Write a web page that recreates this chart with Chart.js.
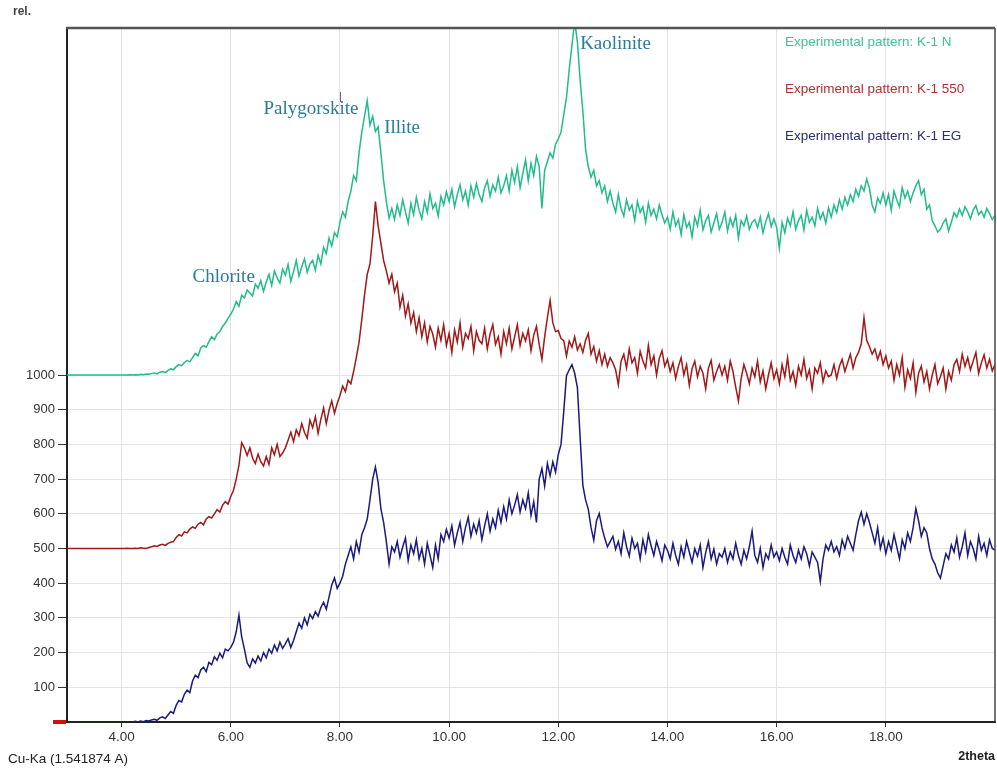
<!DOCTYPE html>
<html>
<head>
<meta charset="utf-8">
<script src="https://cdn.jsdelivr.net/npm/chart.js@4.4.1/dist/chart.umd.min.js"></script>
<style>
  html, body { margin: 0; padding: 0; background: #ffffff; }
  #wrap { width: 997px; height: 769px; position: relative; }
  canvas { display: block; }
</style>
</head>
<body>
<div id="wrap"><canvas id="c" width="997" height="769"></canvas></div>
<script>
// ---- sampling grid (2theta, step 0.05 from 3.00 to 20.00) ----
const thetaStart = 3.0;
const thetaStep = 0.05;

// ---- series values (counts, offsets as plotted) ----
const intensityN = [
  1000,1000,1000,1000,1000,1000,1000,1000,1000,1000,1000,1000,1000,1000,1000,1000,1000,1000,1000,1000,
  1000,1000,1000,1001,1000,1001,1000,1002,1001,1003,1002,1004,1006,1003,1008,1010,1007,1013,1018,1015,
  1024,1030,1027,1036,1042,1038,1050,1062,1055,1078,1085,1080,1096,1110,1102,1118,1125,1140,1150,1163,
  1175,1190,1212,1198,1230,1222,1245,1236,1228,1262,1250,1272,1241,1268,1290,1258,1300,1280,1265,1305,
  1288,1318,1270,1298,1330,1285,1312,1335,1296,1320,1330,1302,1345,1320,1368,1350,1395,1372,1410,1398,
  1440,1470,1455,1500,1530,1575,1560,1640,1700,1745,1790,1720,1745,1702,1715,1640,1560,1500,1452,1480,
  1448,1490,1460,1505,1470,1438,1495,1462,1512,1475,1450,1500,1468,1522,1480,1495,1458,1515,1490,1528,
  1500,1535,1485,1520,1548,1505,1530,1490,1545,1512,1552,1520,1500,1540,1560,1515,1548,1530,1570,1525,
  1545,1575,1530,1590,1555,1600,1540,1580,1620,1560,1610,1575,1630,1600,1480,1590,1615,1640,1625,1665,
  1680,1700,1750,1800,1880,1950,2020,1960,1850,1760,1650,1600,1570,1590,1545,1560,1525,1545,1500,1530,
  1495,1470,1520,1480,1458,1505,1475,1490,1445,1500,1468,1485,1440,1495,1460,1478,1450,1490,1462,1438,
  1455,1420,1470,1430,1448,1405,1462,1425,1440,1398,1455,1430,1475,1418,1445,1460,1412,1438,1465,1420,
  1440,1470,1415,1452,1428,1460,1395,1445,1430,1458,1420,1440,1448,1425,1455,1410,1442,1465,1428,1450,
  1425,1365,1440,1410,1452,1430,1470,1420,1445,1460,1418,1475,1440,1455,1430,1480,1450,1468,1438,1482,
  1455,1490,1468,1505,1478,1512,1490,1520,1500,1535,1515,1545,1530,1565,1538,1490,1470,1510,1495,1525,
  1490,1520,1475,1530,1505,1485,1540,1510,1530,1500,1525,1545,1560,1520,1535,1478,1490,1445,1430,1412,
  1420,1438,1450,1415,1440,1468,1455,1478,1460,1485,1470,1450,1475,1488,1462,1472,1455,1480,1465,1448,
  1460
];

const intensity550 = [
  500,500,500,500,500,500,500,500,500,500,500,500,500,500,500,500,500,500,500,500,
  500,500,501,500,500,501,500,502,501,500,503,505,508,506,510,512,509,515,518,520,
  532,540,536,548,545,556,562,558,570,575,568,585,592,588,600,612,605,625,635,628,
  650,668,700,740,805,790,768,790,760,745,772,750,738,765,742,790,770,800,765,775,
  790,812,835,808,842,825,860,835,818,870,848,880,832,872,905,860,898,925,890,918,
  940,968,952,985,975,1010,1050,1095,1160,1230,1290,1320,1400,1500,1430,1380,1330,1300,1265,1290,
  1240,1265,1195,1230,1170,1205,1150,1180,1125,1165,1110,1150,1095,1140,1118,1080,1135,1100,1145,1085,
  1120,1065,1130,1095,1150,1080,1120,1105,1140,1070,1125,1100,1090,1135,1075,1118,1145,1088,1110,1060,
  1125,1090,1135,1075,1110,1145,1085,1120,1098,1130,1070,1115,1140,1088,1045,1110,1165,1215,1150,1125,
  1128,1105,1099,1055,1098,1080,1110,1072,1090,1065,1100,1120,1060,1082,1040,1070,1030,1060,1025,1050,
  1035,1015,972,1040,1060,1020,1075,1035,1050,1005,1068,1040,1020,1085,1030,1055,1000,1048,1070,1025,
  1045,1010,1035,990,1025,1050,1000,1030,970,1018,1040,995,1025,1005,960,1020,1042,985,1010,1030,
  1000,1025,985,1040,1010,965,925,990,1030,1005,975,1020,995,1040,980,1012,960,1000,1035,990,
  1015,975,1030,995,1050,985,1010,970,1025,1000,1045,990,1015,960,1020,1005,1035,980,1012,995,
  1000,1030,990,1025,1045,1010,1035,1060,1020,1050,1065,1090,1165,1100,1082,1060,1075,1045,1068,1030,
  1055,1020,1040,985,1030,1000,1050,965,1015,990,1035,950,1005,1025,980,1010,960,1000,1030,975,
  995,1020,960,1010,985,1030,1045,1010,1060,1025,1050,1015,1040,1065,1005,1035,1058,1020,1045,1012,
  1030
];

const intensityEG = [
  0,0,0,0,0,0,0,0,0,0,0,0,0,0,0,0,0,0,0,0,
  0,0,0,1,0,2,0,3,1,4,3,6,8,5,12,15,10,20,30,25,
  48,62,58,80,92,85,118,135,128,150,158,145,172,165,188,178,198,185,210,205,
  215,230,260,308,245,210,170,158,182,170,190,176,200,185,210,198,222,205,230,212,
  225,240,215,235,260,285,270,300,280,310,298,318,305,330,345,325,360,395,415,385,
  400,420,455,480,505,470,520,490,540,560,585,640,700,735,690,615,575,520,455,505,
  490,520,475,505,530,465,510,485,525,470,500,455,515,480,445,510,470,540,520,555,
  530,565,510,545,575,520,560,590,535,570,545,580,525,565,600,550,585,560,610,575,
  620,585,640,600,625,655,605,640,615,660,595,635,575,700,730,680,745,710,750,720,
  771,800,895,998,1015,1030,1005,964,820,682,640,613,560,524,580,601,560,530,505,520,
  535,498,520,485,545,505,478,530,500,515,470,525,490,540,508,480,520,495,465,510,
  495,470,515,480,455,505,475,520,490,460,500,478,510,445,488,520,470,498,455,485,
  475,500,460,490,470,515,480,455,495,470,505,550,480,460,500,445,485,470,510,475,
  490,465,500,475,455,510,480,460,495,470,505,485,450,490,475,460,405,470,510,495,
  520,490,505,480,525,500,535,515,495,540,580,605,570,600,575,545,515,560,500,530,
  485,520,495,540,505,470,525,500,545,520,560,615,580,535,560,545,500,470,455,430,
  415,450,485,470,510,490,530,475,505,545,480,520,500,470,535,495,515,480,525,500,
  495
];

// ---- tick labels / names ----
const xTickValues = [4, 6, 8, 10, 12, 14, 16, 18];
const yTickValues = [0, 100, 200, 300, 400, 500, 600, 700, 800, 900, 1000];
const seriesNames = ['Experimental pattern: K-1 N', 'Experimental pattern: K-1 550', 'Experimental pattern: K-1 EG'];
const peakLabels = ['Kaolinite', 'Palygorskite', 'Illite', 'Chlorite'];
// label anchor (left edge, vertical middle) in data coordinates
const peakPositions = [[12.40, 1955], [6.60, 1767], [8.81, 1712], [5.30, 1281]];

const twoTheta = intensityN.map((_, i) => +(thetaStart + i * thetaStep).toFixed(2));
const toPoints = arr => arr.map((v, i) => ({ x: twoTheta[i], y: v }));

const colN = '#22bb8c', col550 = '#a01818', colEG = '#1a1a7c';
const annColor = '#2c7a9c';

const decorPlugin = {
  id: 'decor',
  afterDraw(chart) {
    const ctx = chart.ctx, a = chart.chartArea;
    ctx.save();
    // frame top / right
    ctx.strokeStyle = '#555';
    ctx.lineWidth = 2.5;
    ctx.beginPath(); ctx.moveTo(a.left - 1, a.top); ctx.lineTo(a.right, a.top); ctx.stroke();
    ctx.lineWidth = 1.5;
    ctx.strokeStyle = '#444';
    ctx.beginPath(); ctx.moveTo(a.right, a.top); ctx.lineTo(a.right, a.bottom); ctx.stroke();
    // red baseline marker at zero
    ctx.fillStyle = '#d01010';
    ctx.fillRect(a.left - 14, a.bottom - 2, 13, 4);
    // texts
    ctx.textBaseline = 'middle';
    ctx.fillStyle = '#444';
    ctx.font = 'bold 12px "Liberation Sans", Arial, sans-serif';
    ctx.textAlign = 'left';
    ctx.fillText('rel.', 13, 12);
    ctx.fillStyle = '#222';
    ctx.font = '13.5px "Liberation Sans", Arial, sans-serif';
    ctx.fillText('Cu-Ka (1.541874 A)', 8, 759);
    ctx.font = 'bold 12.5px "Liberation Sans", Arial, sans-serif';
    ctx.textAlign = 'right';
    ctx.fillText('2theta', 995, 757);
    // legend texts
    ctx.textAlign = 'left';
    ctx.font = '13.5px "Liberation Sans", Arial, sans-serif';
    const legCols = ['#3cc49a', '#b03030', '#2a2a7a'];
    const legY = [42, 89, 136];
    seriesNames.forEach((t, i) => { ctx.fillStyle = legCols[i]; ctx.fillText(t, 785, legY[i]); });
    // peak annotations
    const xs = chart.scales.x, ys = chart.scales.y;
    ctx.font = '19px "Liberation Serif", "Times New Roman", serif';
    ctx.fillStyle = annColor;
    peakLabels.forEach((t, i) => {
      const px = xs.getPixelForValue(peakPositions[i][0]);
      const py = ys.getPixelForValue(peakPositions[i][1]);
      ctx.fillText(t, px, py);
    });
    // small marker above Palygorskite
    ctx.strokeStyle = '#666';
    ctx.lineWidth = 1;
    ctx.beginPath(); ctx.moveTo(340.5, 92); ctx.lineTo(340.5, 102); ctx.stroke();
    ctx.restore();
  }
};

new Chart(document.getElementById('c'), {
  type: 'line',
  data: {
    datasets: [
      { label: seriesNames[0], data: toPoints(intensityN), borderColor: colN, borderWidth: 1.5, pointRadius: 0, tension: 0 },
      { label: seriesNames[1], data: toPoints(intensity550), borderColor: col550, borderWidth: 1.5, pointRadius: 0, tension: 0 },
      { label: seriesNames[2], data: toPoints(intensityEG), borderColor: colEG, borderWidth: 1.5, pointRadius: 0, tension: 0 }
    ]
  },
  options: {
    responsive: false,
    animation: false,
    devicePixelRatio: 1,
    layout: { padding: { top: 28, right: 2, bottom: 0, left: 0 } },
    plugins: { legend: { display: false }, tooltip: { enabled: false }, title: { display: false } },
    scales: {
      x: {
        type: 'linear', min: 3, max: 20,
        afterBuildTicks: s => { s.ticks = xTickValues.map(v => ({ value: v })); },
        afterFit: s => { s.height = 47; },
        ticks: { color: '#333', font: { family: '"Liberation Sans", Arial, sans-serif', size: 13.5 }, padding: 2, maxRotation: 0,
                 callback: v => Number(v).toFixed(2) },
        grid: { color: '#e4e4e4', lineWidth: 1, tickLength: 5, tickColor: '#333', drawTicks: true },
        border: { color: '#222', width: 2 }
      },
      y: {
        type: 'linear', min: 0, max: 2000,
        afterBuildTicks: s => { s.ticks = yTickValues.map(v => ({ value: v })); },
        afterFit: s => { s.width = 67; },
        ticks: { color: '#333', font: { family: '"Liberation Sans", Arial, sans-serif', size: 13 }, padding: 3,
                 callback: v => (v === 0 ? '' : String(v)) },
        grid: { color: '#e4e4e4', lineWidth: 1, tickLength: 9, tickColor: '#333', drawTicks: true },
        border: { color: '#222', width: 2 }
      }
    }
  },
  plugins: [decorPlugin]
});
</script>
</body>
</html>
